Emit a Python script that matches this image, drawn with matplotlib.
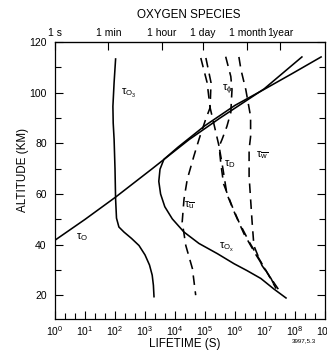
import numpy as np
import matplotlib
matplotlib.use("Agg")
import matplotlib.pyplot as plt

plt.rcParams['font.family'] = ['Liberation Sans', 'DejaVu Sans']
plt.rcParams['mathtext.fontset'] = 'custom'
plt.rcParams['mathtext.rm'] = 'Liberation Sans'
plt.rcParams['mathtext.it'] = 'Liberation Sans'

# ---- data: log10(lifetime [s]) vs altitude [km] ----
o3_logt = [2.02, 1.97, 1.93, 1.94, 1.97, 2.00, 2.02, 2.05, 2.13, 2.30, 2.55, 2.80, 3.00, 3.15, 3.24, 3.28, 3.30]
o3_alt = [113.3, 104.0, 94.6, 88.0, 81.6, 70.0, 58.0, 50.5, 47.0, 45.0, 42.5, 39.7, 36.0, 32.0, 28.0, 24.0, 19.5]

o_logt = [0.0, 1.0, 2.02, 3.24, 4.47, 5.5, 6.97, 8.23]
o_alt = [41.8, 50.0, 58.8, 70.0, 81.5, 90.0, 101.5, 114.1]

ox_logt = [7.70, 7.30, 6.86, 6.40, 5.97, 5.41, 4.80, 4.30, 3.91, 3.66, 3.52, 3.46, 3.50, 3.63, 4.10, 5.00, 6.00, 6.97, 7.90, 8.87]
ox_alt = [19.0, 22.5, 26.7, 29.8, 32.5, 36.5, 40.5, 45.0, 50.2, 55.0, 60.0, 65.0, 69.8, 73.7, 78.5, 87.0, 95.0, 101.3, 107.5, 114.1]

u_logt = [4.86, 5.07, 5.17, 5.02, 4.80, 4.63, 4.41, 4.30, 4.24, 4.36, 4.58, 4.69]
u_alt = [113.7, 104.0, 94.1, 89.4, 81.6, 75.0, 65.9, 58.0, 49.0, 39.7, 30.6, 20.1]

d_logt = [5.03, 5.20, 5.17, 5.30, 5.47, 5.53, 5.62, 5.90, 6.13, 6.47, 6.80, 7.13, 7.37]
d_alt = [113.7, 104.0, 94.1, 87.5, 78.8, 71.8, 64.0, 55.3, 49.0, 41.2, 34.5, 27.8, 22.7]

phi_logt = [5.69, 5.86, 5.90, 5.86, 5.73, 5.57, 5.47, 5.60, 5.73, 6.00, 6.30, 6.70, 7.10, 7.47]
phi_alt = [114.2, 106.4, 101.2, 92.2, 86.7, 81.6, 78.8, 69.8, 60.0, 52.2, 44.3, 36.0, 28.5, 22.0]

w_logt = [6.13, 6.20, 6.36, 6.52, 6.52, 6.47, 6.47, 6.52, 6.57, 6.63, 6.90, 7.20, 7.37]
w_alt = [114.1, 109.0, 101.2, 90.6, 82.7, 77.6, 67.0, 58.0, 49.0, 39.6, 31.8, 26.7, 22.7]

top_labels = ['1 s', '1 min', '1 hour', '1 day', '1 month', '1year']
top_seconds = [1, 60, 3600, 86400, 2.6e6, 3.15e7]

W, H = 327, 354
fig = plt.figure(figsize=(W / 100, H / 100), dpi=100)
L, R, T, B = 55, 325, 42, 319
ax = fig.add_axes([L / W, 1 - B / H, (R - L) / W, (B - T) / H])

def P(lt):
    return 10 ** np.array(lt)

lw = 1.15
ax.plot(P(o3_logt), o3_alt, color='black', lw=lw)
ax.plot(P(o_logt), o_alt, color='black', lw=lw)
ax.plot(P(ox_logt), ox_alt, color='black', lw=lw)
dash = (0, (6, 4))
for xs, ys in [(u_logt, u_alt), (d_logt, d_alt), (phi_logt, phi_alt), (w_logt, w_alt)]:
    ax.plot(P(xs), ys, color='black', lw=lw, linestyle=dash)

ax.set_xscale('log')
ax.set_xlim(1, 1e9)
ax.set_ylim(10.7, 120)

ax.set_xticks(10.0 ** np.arange(0, 10))
ax.set_xticklabels([r'$10^{%d}$' % k for k in range(10)])
minor = [10 ** (k + f) for k in range(9) for f in (1 / 3, 2 / 3)]
ax.set_xticks(minor, minor=True)
ax.set_yticks([20, 40, 60, 80, 100, 120])
ax.set_yticks([30, 50, 70, 90, 110], minor=True)
ax.tick_params(which='both', direction='in', top=False, right=True, labelsize=7.5, width=0.8)
ax.tick_params(which='major', length=6)
ax.tick_params(which='minor', length=4)
ax.tick_params(axis='x', which='minor', labelbottom=False)
ax.tick_params(axis='y', pad=6)
ax.tick_params(axis='x', pad=4)
for s in ax.spines.values():
    s.set_linewidth(0.9)

# top time axis
ax2 = ax.secondary_xaxis('top')
ax2.set_xticks(top_seconds)
ax2.set_xticklabels(top_labels)
ax2.xaxis.set_minor_locator(matplotlib.ticker.NullLocator())
ax2.tick_params(direction='in', length=6, width=0.8, labelsize=7.5, pad=3)

def ftext(x, y, s, **kw):
    fig.text(x / W, 1 - y / H, s, **kw)

ftext(189, 15, 'OXYGEN SPECIES', fontsize=8.4, ha='center', va='center')
ftext(185, 344, 'LIFETIME (S)', fontsize=8.4, ha='center', va='center')
ftext(23, 170, 'ALTITUDE (KM)', fontsize=8.4, ha='center', va='center', rotation=90)
ftext(304, 341, '3997,5.3', fontsize=4.5, ha='center', va='center')

lab = dict(fontsize=8, ha='left', va='center')
ax.text(10 ** 2.19, 99.5, r'$\tau_{O_3}$', **lab)
ax.text(10 ** 0.69, 43.2, r'$\tau_O$', **lab)
ax.text(10 ** 5.47, 38.8, r'$\tau_{O_x}$', **lab)
ax.text(10 ** 4.30, 56.0, r'$\tau_{\overline{u}}$', **lab)
ax.text(10 ** 5.63, 72.0, r'$\tau_D$', **lab)
ax.text(10 ** 5.57, 101.2, r'$\tau_{\phi}$', **lab)
ax.text(10 ** 6.69, 75.5, r'$\tau_{\overline{w}}$', **lab)

fig.savefig('out.png', dpi=100)
